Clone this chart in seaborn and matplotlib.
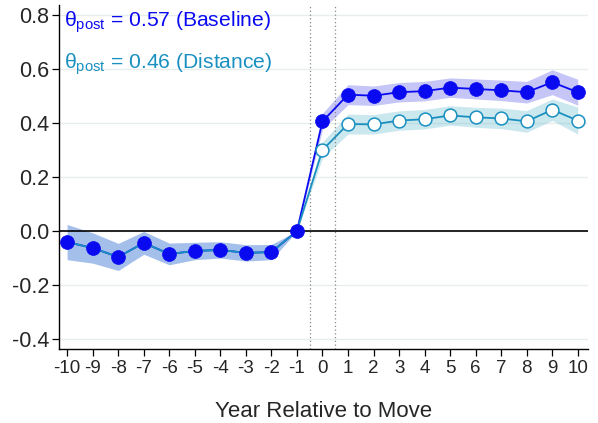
import matplotlib
matplotlib.use("Agg")
import matplotlib.pyplot as plt
import seaborn as sns
import numpy as np
import pandas as pd

# Event-study estimates by year relative to move
years = list(range(-10, 11))
baseline = [-0.041, -0.063, -0.096, -0.044, -0.085, -0.074, -0.070, -0.081, -0.078, 0.0,
            0.406, 0.505, 0.501, 0.514, 0.518, 0.531, 0.526, 0.521, 0.514, 0.551, 0.514]
baseline_se = [0.065, 0.056, 0.050, 0.042, 0.040, 0.032, 0.030, 0.030, 0.028, 0.0,
               0.030, 0.037, 0.036, 0.036, 0.036, 0.036, 0.037, 0.038, 0.040, 0.046, 0.048]
distance = [-0.041, -0.063, -0.096, -0.044, -0.085, -0.074, -0.070, -0.081, -0.078, 0.0,
            0.300, 0.396, 0.395, 0.409, 0.414, 0.428, 0.421, 0.417, 0.406, 0.449, 0.409]
distance_se = [0.065, 0.056, 0.050, 0.042, 0.040, 0.032, 0.030, 0.030, 0.028, 0.0,
               0.030, 0.037, 0.036, 0.036, 0.036, 0.036, 0.037, 0.038, 0.040, 0.040, 0.050]
theta_baseline = 0.57
theta_distance = 0.46
yticks = [-0.4, -0.2, 0.0, 0.2, 0.4, 0.6, 0.8]

df = pd.DataFrame({"year": years, "baseline": baseline, "b_se": baseline_se,
                   "distance": distance, "d_se": distance_se})
post = df[df["year"] >= 0]

sns.set_style("white")
plt.rcParams["font.family"] = ["Liberation Sans", "DejaVu Sans"]
plt.rcParams["mathtext.fontset"] = "custom"
plt.rcParams["mathtext.rm"] = "Liberation Sans"
plt.rcParams["mathtext.it"] = "Liberation Sans:italic"

BLUE = "#0a0af0"
TEAL = "#1a90c0"

fig = plt.figure(figsize=(5.98, 4.23), dpi=100)
ax = fig.add_axes([59 / 598, 1 - 349 / 423, 529 / 598, 344 / 423])

for y in yticks:
    ax.axhline(y, color="#e8eeee", lw=1.0, zorder=0)

# confidence bands
ax.fill_between(df["year"], df["baseline"] - df["b_se"], df["baseline"] + df["b_se"],
                color="#3030e8", alpha=0.28, lw=0, zorder=1)
ax.fill_between(df["year"], df["distance"] - df["d_se"], df["distance"] + df["d_se"],
                color="#58b4cc", alpha=0.30, lw=0, zorder=1)

ax.axhline(0, color="black", lw=1.2, zorder=2)
for xv in (-0.5, 0.5):
    ax.axvline(xv, color="#888888", lw=0.9, ls=(0, (1, 2)), zorder=2)

sns.lineplot(data=df, x="year", y="baseline", color=BLUE, lw=1.3, ax=ax, zorder=3)
sns.lineplot(data=df, x="year", y="distance", color=TEAL, lw=1.3, ax=ax, zorder=4)
sns.scatterplot(data=post, x="year", y="distance", s=85, color="white",
                edgecolor=TEAL, linewidth=1.1, ax=ax, zorder=5)
sns.scatterplot(data=df, x="year", y="baseline", s=100, color=BLUE,
                edgecolor=BLUE, linewidth=0.5, ax=ax, zorder=6)

ax.set_xlim(-10.32, 10.4)
ax.set_ylim(-0.437, 0.837)
ax.set_xticks(years)
ax.set_xticklabels([str(v) for v in years])
ax.set_yticks(yticks)
ax.set_yticklabels([f"{v:.1f}" for v in yticks])
ax.set_xlabel("Year Relative to Move", fontsize=16, labelpad=17)
ax.set_ylabel("")

for side in ("top", "right"):
    ax.spines[side].set_visible(False)
for side in ("left", "bottom"):
    ax.spines[side].set_color("black")
    ax.spines[side].set_linewidth(1.0)
ax.tick_params(axis="both", direction="out", length=5, width=0.9, color="black",
               bottom=True, left=True)
ax.tick_params(axis="y", labelsize=15.5, pad=2)
ax.tick_params(axis="x", labelsize=13.5, pad=3)

ax.text(0.01, 0.95, r"θ$_{\mathrm{post}}$" + f" = {theta_baseline:.2f} (Baseline)",
        transform=ax.transAxes, color=BLUE, fontsize=15.2, va="center", ha="left")
ax.text(0.01, 0.828, r"θ$_{\mathrm{post}}$" + f" = {theta_distance:.2f} (Distance)",
        transform=ax.transAxes, color=TEAL, fontsize=15.2, va="center", ha="left")

fig.savefig("out.png", dpi=100)
